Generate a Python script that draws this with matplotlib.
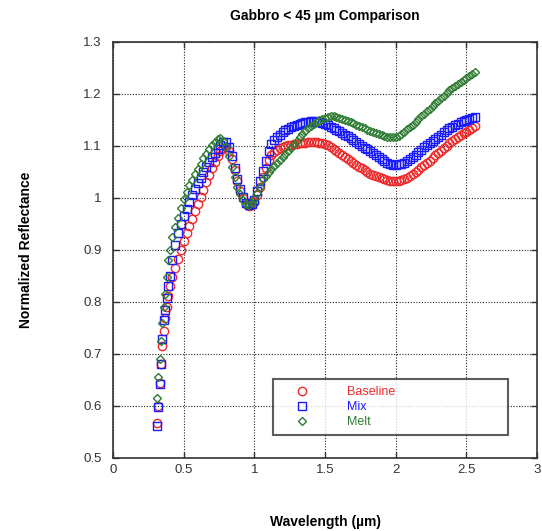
import matplotlib
matplotlib.use("Agg")
import matplotlib.pyplot as plt
from matplotlib.ticker import MultipleLocator, FormatStrFormatter

plt.rcParams['font.family'] = ['Liberation Sans', 'DejaVu Sans']

wavelength = [0.31, 0.32, 0.33, 0.34, 0.35, 0.36, 0.37, 0.38, 0.39,
              0.40, 0.42, 0.44, 0.46, 0.48, 0.50, 0.52, 0.54, 0.56, 0.58,
              0.60, 0.62, 0.64, 0.66, 0.68, 0.70, 0.72, 0.74, 0.76, 0.78,
              0.80, 0.82, 0.84, 0.86, 0.88, 0.90, 0.92, 0.94, 0.96, 0.98,
              1.00, 1.02, 1.04, 1.06, 1.08, 1.10, 1.12, 1.14, 1.16, 1.18,
              1.20, 1.22, 1.24, 1.26, 1.28, 1.30, 1.32, 1.34, 1.36, 1.38,
              1.40, 1.42, 1.44, 1.46, 1.48, 1.50, 1.52, 1.54, 1.56, 1.58,
              1.60, 1.62, 1.64, 1.66, 1.68, 1.70, 1.72, 1.74, 1.76, 1.78,
              1.80, 1.82, 1.84, 1.86, 1.88, 1.90, 1.92, 1.94, 1.96, 1.98,
              2.00, 2.02, 2.04, 2.06, 2.08, 2.10, 2.12, 2.14, 2.16, 2.18,
              2.20, 2.22, 2.24, 2.26, 2.28, 2.30, 2.32, 2.34, 2.36, 2.38,
              2.40, 2.42, 2.44, 2.46, 2.48, 2.50, 2.52, 2.54, 2.56]

baseline = [0.567, 0.600, 0.645, 0.680, 0.715, 0.745, 0.770, 0.790, 0.812,
            0.830, 0.848, 0.865, 0.882, 0.900, 0.918, 0.932, 0.946, 0.960, 0.974,
            0.988, 1.002, 1.016, 1.030, 1.044, 1.057, 1.069, 1.080, 1.090, 1.097,
            1.098, 1.090, 1.074, 1.054, 1.033, 1.014, 0.999, 0.989, 0.984, 0.986,
            0.993, 1.006, 1.022, 1.040, 1.058, 1.073, 1.083, 1.089, 1.093, 1.096,
            1.098, 1.100, 1.101, 1.102, 1.103, 1.104, 1.105, 1.106, 1.106, 1.107,
            1.107, 1.107, 1.107, 1.106, 1.105, 1.103, 1.101, 1.098, 1.095, 1.091,
            1.087, 1.083, 1.079, 1.075, 1.071, 1.068, 1.064, 1.060, 1.057, 1.053,
            1.050, 1.047, 1.044, 1.042, 1.040, 1.038, 1.036, 1.034, 1.033, 1.032,
            1.032, 1.033, 1.034, 1.036, 1.039, 1.042, 1.046, 1.050, 1.054, 1.059,
            1.063, 1.068, 1.072, 1.077, 1.082, 1.086, 1.091, 1.096, 1.100, 1.105,
            1.109, 1.113, 1.117, 1.121, 1.124, 1.127, 1.130, 1.134, 1.138]

mix = [0.562, 0.598, 0.642, 0.680, 0.728, 0.765, 0.785, 0.808, 0.830,
       0.850, 0.880, 0.910, 0.932, 0.950, 0.965, 0.978, 0.992, 1.005, 1.017,
       1.028, 1.039, 1.050, 1.060, 1.070, 1.079, 1.087, 1.095, 1.101, 1.107,
       1.108, 1.098, 1.080, 1.058, 1.036, 1.017, 1.002, 0.991, 0.986, 0.988,
       0.997, 1.013, 1.032, 1.052, 1.072, 1.090, 1.103, 1.111, 1.117, 1.122,
       1.127, 1.130, 1.133, 1.136, 1.139, 1.141, 1.143, 1.145, 1.146, 1.147,
       1.148, 1.148, 1.147, 1.146, 1.145, 1.143, 1.140, 1.137, 1.134, 1.131,
       1.128, 1.125, 1.122, 1.119, 1.115, 1.111, 1.107, 1.104, 1.100, 1.097,
       1.094, 1.090, 1.086, 1.082, 1.078, 1.074, 1.071, 1.068, 1.066, 1.064,
       1.064, 1.065, 1.066, 1.068, 1.071, 1.074, 1.078, 1.083, 1.088, 1.093,
       1.098, 1.102, 1.106, 1.110, 1.114, 1.118, 1.122, 1.126, 1.130, 1.134,
       1.137, 1.140, 1.143, 1.146, 1.148, 1.150, 1.152, 1.154, 1.156]

melt = [0.615, 0.655, 0.690, 0.725, 0.760, 0.790, 0.815, 0.848, 0.880,
        0.900, 0.925, 0.945, 0.962, 0.980, 0.998, 1.012, 1.024, 1.035, 1.046,
        1.056, 1.066, 1.076, 1.085, 1.094, 1.101, 1.108, 1.113, 1.115, 1.110,
        1.098, 1.080, 1.060, 1.040, 1.022, 1.007, 0.996, 0.989, 0.987, 0.990,
        0.998, 1.009, 1.021, 1.036, 1.043, 1.049, 1.055, 1.061, 1.067, 1.073,
        1.079, 1.085, 1.091, 1.097, 1.103, 1.110, 1.117, 1.123, 1.129, 1.134,
        1.139, 1.143, 1.146, 1.149, 1.152, 1.154, 1.156, 1.157, 1.157, 1.156,
        1.154, 1.152, 1.150, 1.148, 1.146, 1.144, 1.141, 1.139, 1.136, 1.134,
        1.131, 1.129, 1.127, 1.125, 1.123, 1.121, 1.119, 1.118, 1.117, 1.117,
        1.118, 1.120, 1.123, 1.127, 1.132, 1.136, 1.141, 1.146, 1.151, 1.157,
        1.162, 1.167, 1.172, 1.177, 1.182, 1.187, 1.192, 1.197, 1.202, 1.207,
        1.211, 1.215, 1.219, 1.223, 1.227, 1.231, 1.234, 1.238, 1.242]

series_names = ["Baseline", "Mix", "Melt"]
series_colors = ["#f02a2a", "#1a1aff", "#2e7d32"]
series_markers = ["o", "s", "D"]

fig = plt.figure(figsize=(5.42, 5.31), dpi=100)
ax = fig.add_axes([0.2085, 0.1375, 0.7825, 0.7835])

sizes = [6, 6, 4.5]
for vals, name, col, mk, ms in zip([baseline, mix, melt], series_names,
                                   series_colors, series_markers, sizes):
    ax.plot(wavelength, vals, linestyle='none', marker=mk, markersize=ms,
            markerfacecolor='none', markeredgecolor=col, markeredgewidth=1.0,
            label=name)

ax.set_xlim(0, 3)
ax.set_ylim(0.5, 1.3)
ax.xaxis.set_major_locator(MultipleLocator(0.5))
ax.yaxis.set_major_locator(MultipleLocator(0.1))
ax.xaxis.set_major_formatter(FormatStrFormatter('%g'))
ax.yaxis.set_major_formatter(FormatStrFormatter('%g'))

ax.grid(True, color='#222222', linestyle=(0, (1, 1.5)), linewidth=0.8)
ax.set_axisbelow(True)
ax.tick_params(direction='in', length=4, width=1, top=True, right=True,
               labelsize=9.5, labelcolor='#333333', color='#333333')
ax.tick_params(axis='x', pad=4.5)
ax.tick_params(axis='y', pad=8)
for sp in ax.spines.values():
    sp.set_color('#333333')
    sp.set_linewidth(1.2)

ax.set_title("Gabbro < 45 µm Comparison", fontsize=10, fontweight='bold',
             pad=15.5)
ax.set_xlabel("Wavelength (µm)", fontsize=10, fontweight='bold', labelpad=28)
ax.set_ylabel("Normalized Reflectance", fontsize=10, fontweight='bold',
              labelpad=36)

leg = ax.legend(loc='lower left', bbox_to_anchor=(0.377, 0.055, 0.555, 0.142),
                mode='expand', fontsize=9, frameon=True, fancybox=False,
                borderpad=0.55, handlelength=3.5, handletextpad=1.87,
                labelspacing=0.25, borderaxespad=0)
leg.get_frame().set_edgecolor('#333333')
leg.get_frame().set_linewidth(1.5)
for txt, col in zip(leg.get_texts(), series_colors):
    txt.set_color(col)

fig.savefig("out.png", dpi=100)
